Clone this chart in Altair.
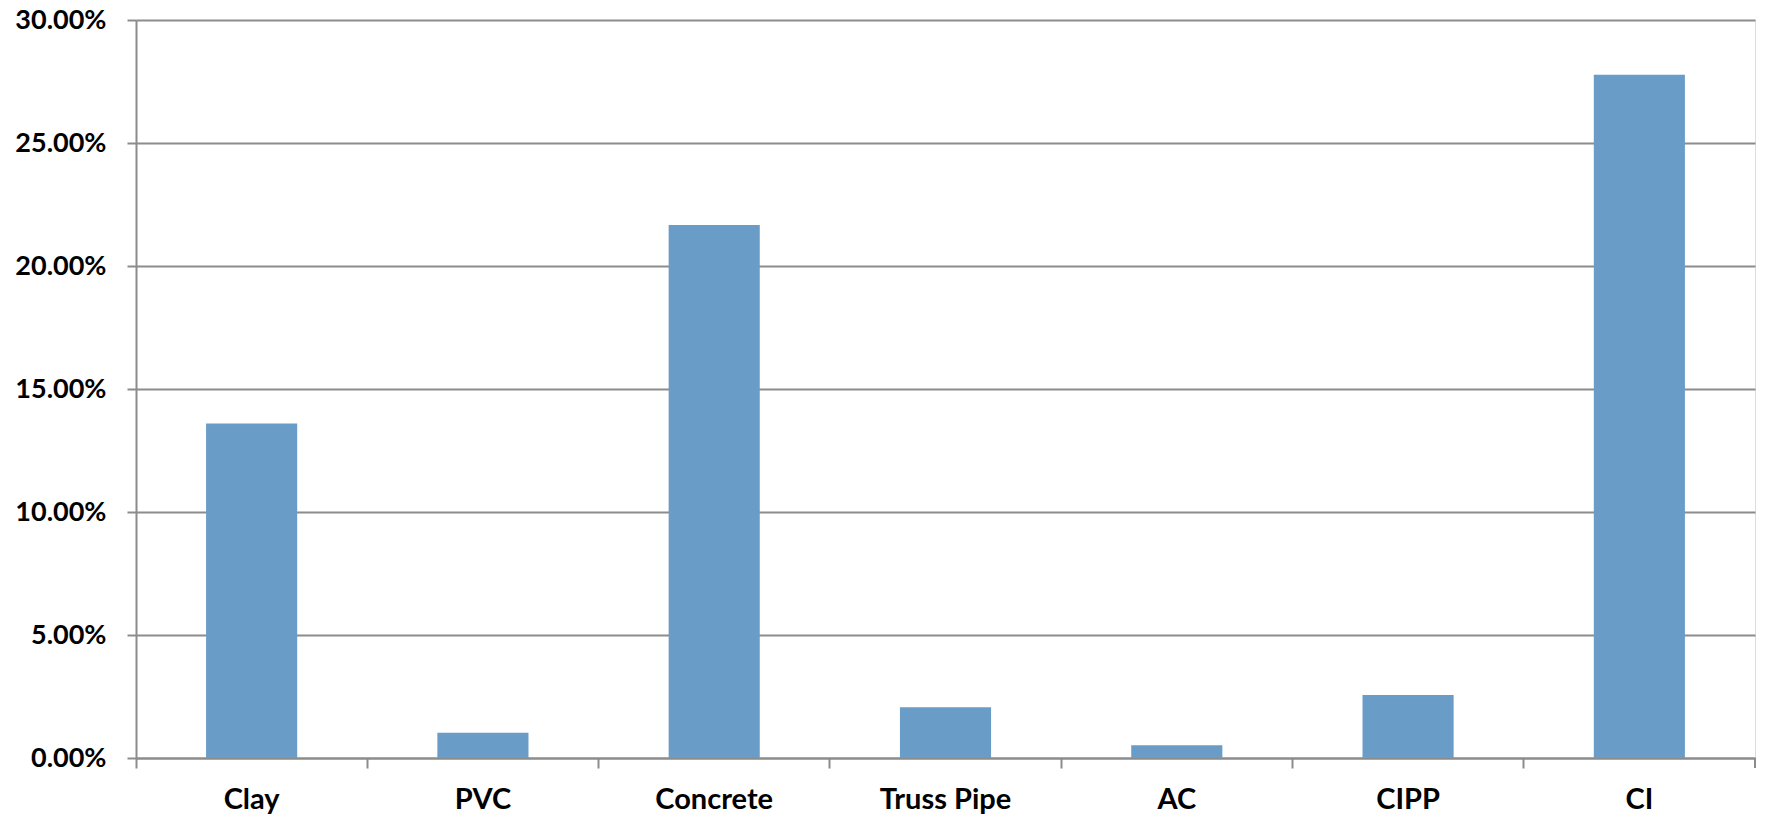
import altair as alt
import pandas as pd

categories = ["Clay", "PVC", "Concrete", "Truss Pipe", "AC", "CIPP", "CI"]
values = [0.1360, 0.0103, 0.2167, 0.0206, 0.0052, 0.0256, 0.2777]
y_ticks = [0, 0.05, 0.10, 0.15, 0.20, 0.25, 0.30]

df = pd.DataFrame({"category": categories, "value": values})

W, H = 1619, 738
FONT = "Lato"
GRID = "#8c8c8c"

bars = alt.Chart(df).mark_bar(
    width=alt.RelativeBandSize(0.394), color="#699DC8"
).encode(
    x=alt.X("category:N", sort=categories, title=None,
            scale=alt.Scale(paddingInner=0, paddingOuter=0),
            axis=alt.Axis(labelAngle=0, bandPosition=0, ticks=True, tickSize=10,
                          tickColor=GRID, tickWidth=2, domainColor=GRID, domainWidth=2,
                          labelFont=FONT, labelFontSize=29, labelFontWeight="bold",
                          labelColor="black", labelPadding=17, grid=False,
                          labelBaseline="top")),
    y=alt.Y("value:Q", title=None,
            scale=alt.Scale(domain=[0, 0.30], nice=False),
            axis=alt.Axis(values=y_ticks, format=".2%", tickSize=9, tickColor=GRID,
                          tickWidth=2, domainColor=GRID, domainWidth=2,
                          gridColor=GRID, gridWidth=2, grid=True,
                          labelFont=FONT, labelFontSize=27, labelFontWeight="bold",
                          labelColor="black", labelPadding=21)),
)

edge_tick = alt.Chart(df.head(1)).mark_rule(color=GRID, strokeWidth=2).encode(
    x=alt.value(W), y=alt.value(H), y2=alt.value(H + 10)
)

chart = alt.layer(bars, edge_tick).properties(
    width=W, height=H,
    autosize=alt.AutoSizeParams(type="none"),
    padding={"left": 128, "top": 12, "right": 3, "bottom": 60},
).configure_view(stroke=None).configure(background="white")

chart.save("out.html", embed_options={"renderer": "svg", "actions": False})
